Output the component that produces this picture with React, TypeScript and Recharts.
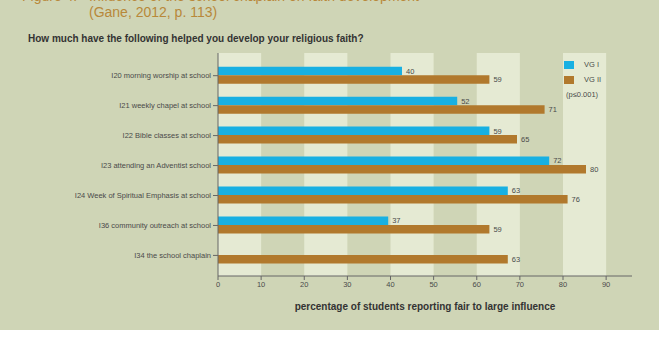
import {
  Bar,
  BarChart,
  LabelList,
  ReferenceArea,
  XAxis,
  YAxis,
} from "recharts";

const categories = [
  "I20 morning worship at school",
  "I21 weekly chapel at school",
  "I22 Bible classes at school",
  "I23 attending an Adventist school",
  "I24 Week of Spiritual Emphasis at school",
  "I36 community outreach at school",
  "I34 the school chaplain",
];
const vg1 = [40, 52, 59, 72, 63, 37, null];
const vg2 = [59, 71, 65, 80, 76, 59, 63];
const xTicks = [0, 10, 20, 30, 40, 50, 60, 70, 80, 90];

const data = categories.map((name, i) => ({ name, vg1: vg1[i], vg2: vg2[i] }));
// light background band on every other decade: 0-10, 20-30, ...
const lightBands = xTicks.filter((_, i) => i % 2 === 0);

const FONT = "'Liberation Sans', Arial, Helvetica, sans-serif";
const BLUE = "#18b0e2";
const BROWN = "#b1792d";
const PANEL = "#cfd5b6";
const LIGHT = "#e5ead3";
const TEXT = "#4a4a4a";
const AXIS = "#666";

function CategoryTick(props: any) {
  const { x, y, payload } = props;
  return (
    <text
      x={x}
      y={y}
      dy={2.6}
      textAnchor="end"
      fontSize={7.5}
      fill={TEXT}
      fontFamily={FONT}
    >
      {payload.value}
    </text>
  );
}

export default function App() {
  return (
    <div
      style={{
        position: "absolute",
        left: 0,
        top: 0,
        width: 664,
        height: 340,
        background: "#fff",
        fontFamily: FONT,
        overflow: "hidden",
      }}
    >
      <div
        style={{
          position: "absolute",
          left: 0,
          top: 0,
          width: 659,
          height: 330,
          background: PANEL,
        }}
      />
      <div
        style={{
          position: "absolute",
          top: -12,
          left: 22,
          fontSize: 14,
          lineHeight: "16px",
          color: "#b8883a",
          whiteSpace: "nowrap",
        }}
      >
        Figure 4.
      </div>
      <div
        style={{
          position: "absolute",
          top: -12,
          left: 89,
          fontSize: 14,
          lineHeight: "16px",
          color: "#b8883a",
          whiteSpace: "nowrap",
        }}
      >
        Influence of the school chaplain on faith development
        <br />
        (Gane, 2012, p. 113)
      </div>
      <div
        style={{
          position: "absolute",
          top: 33,
          left: 28,
          fontSize: 10,
          fontWeight: "bold",
          color: "#333",
          whiteSpace: "nowrap",
        }}
      >
        How much have the following helped you develop your religious faith?
      </div>
      <div style={{ position: "absolute", left: 0, top: 0 }}>
        <BarChart
          width={664}
          height={340}
          data={data}
          layout="vertical"
          margin={{ top: 53, right: 32, left: 0, bottom: 24 }}
          barGap={0}
          barSize={8.5}
        >
          <XAxis
            type="number"
            domain={[0, 96]}
            allowDataOverflow
            ticks={xTicks}
            height={40}
            stroke={AXIS}
            tickSize={4}
            tick={{ fontSize: 7.5, fill: TEXT, fontFamily: FONT }}
            label={{
              value: "percentage of students reporting fair to large influence",
              position: "insideBottom",
              offset: 6,
              style: {
                fontSize: 10,
                fontWeight: "bold",
                fill: "#333",
                fontFamily: FONT,
              },
            }}
          />
          <XAxis
            xAxisId="bars"
            orientation="top"
            type="number"
            domain={[0, 90]}
            allowDataOverflow
            height={0}
            hide
          />
          <YAxis
            type="category"
            dataKey="name"
            width={218}
            padding={{ top: 7.7, bottom: 5.6 }}
            stroke={AXIS}
            tickSize={5}
            tick={<CategoryTick />}
          />
          <YAxis
            yAxisId="full"
            orientation="right"
            type="number"
            domain={[0, 1]}
            allowDataOverflow
            width={0}
            hide
          />
          {lightBands.map((b) => (
            <ReferenceArea
              key={b}
              yAxisId="full"
              x1={b}
              x2={b + 10}
              fill={LIGHT}
              fillOpacity={1}
              stroke="none"
            />
          ))}
          <Bar
            xAxisId="bars"
            dataKey="vg1"
            name="VG I"
            fill={BLUE}
            isAnimationActive={false}
          >
            <LabelList
              dataKey="vg1"
              position="right"
              offset={4}
              style={{ fontSize: 7.5, fill: TEXT, fontFamily: FONT }}
            />
          </Bar>
          <Bar
            xAxisId="bars"
            dataKey="vg2"
            name="VG II"
            fill={BROWN}
            isAnimationActive={false}
          >
            <LabelList
              dataKey="vg2"
              position="right"
              offset={4}
              style={{ fontSize: 7.5, fill: TEXT, fontFamily: FONT }}
            />
          </Bar>
        </BarChart>
      </div>
      <div
        style={{
          position: "absolute",
          left: 564,
          top: 61,
          fontSize: 7.5,
          color: TEXT,
          lineHeight: "8px",
        }}
      >
        <div style={{ display: "flex", alignItems: "center", marginBottom: 7 }}>
          <span
            style={{ width: 10, height: 8, background: BLUE, marginRight: 10 }}
          />
          <span>VG I</span>
        </div>
        <div style={{ display: "flex", alignItems: "center", marginBottom: 7 }}>
          <span
            style={{ width: 10, height: 8, background: BROWN, marginRight: 10 }}
          />
          <span>VG II</span>
        </div>
        <div style={{ marginLeft: 2 }}>(p≤0.001)</div>
      </div>
    </div>
  );
}
